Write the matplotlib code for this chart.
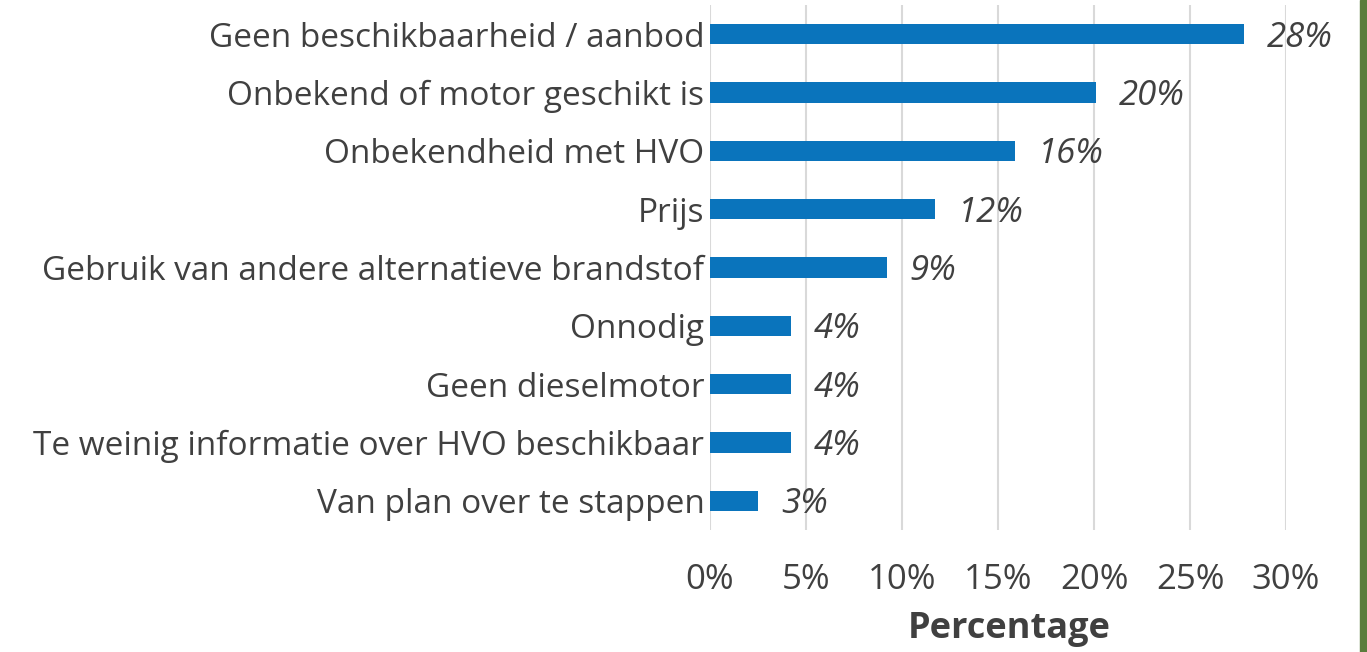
import matplotlib.pyplot as plt

# data
categories = ['Geen beschikbaarheid / aanbod', 'Onbekend of motor geschikt is',
              'Onbekendheid met HVO', 'Prijs', 'Gebruik van andere alternatieve brandstof',
              'Onnodig', 'Geen dieselmotor', 'Te weinig informatie over HVO beschikbaar',
              'Van plan over te stappen']
values = [27.8, 20.1, 15.9, 11.7, 9.2, 4.2, 4.2, 4.2, 2.5]
value_labels = ['28%', '20%', '16%', '12%', '9%', '4%', '4%', '4%', '3%']
xticks = [0, 5, 10, 15, 20, 25, 30]

plt.rcParams['font.family'] = ['Open Sans', 'DejaVu Sans']
text_col = '#404040'

fig = plt.figure(figsize=(13.67, 6.52), dpi=100)
ax = fig.add_axes([710/1367, 1-530/652, 576/1367, 525/652])

y = list(range(len(categories)))
ax.barh(y, values, height=0.35, color='#0a74bc', zorder=3)
for yi, v, lab in zip(y, values, value_labels):
    ax.text(v + 1.2, yi + 0.06, lab, va='center', ha='left', fontsize=25,
            style='italic', color=text_col, zorder=4)

ax.set_ylim(len(categories) - 0.5, -0.5)
ax.set_xlim(0, 30)
ax.set_yticks(y)
ax.set_yticklabels(categories, fontsize=24, color=text_col)
ax.set_xticks(xticks)
ax.set_xticklabels([f'{t}%' for t in xticks], fontsize=25, color=text_col)
ax.tick_params(axis='both', length=0)
ax.tick_params(axis='x', pad=24)
ax.tick_params(axis='y', pad=4)
ax.grid(axis='x', color='#d9d9d9', linewidth=1.5, zorder=0)
for s in ax.spines.values():
    s.set_visible(False)
ax.set_xlabel('Percentage', fontsize=26, fontweight='bold', color=text_col)
ax.xaxis.set_label_coords(0.52, -0.155)

# green strip at right edge
fig.patches.append(plt.Rectangle((1360/1367, 0), 7/1367, 1, transform=fig.transFigure,
                                 color='#5a7d3c', zorder=10))

plt.savefig('out.png', dpi=100)
